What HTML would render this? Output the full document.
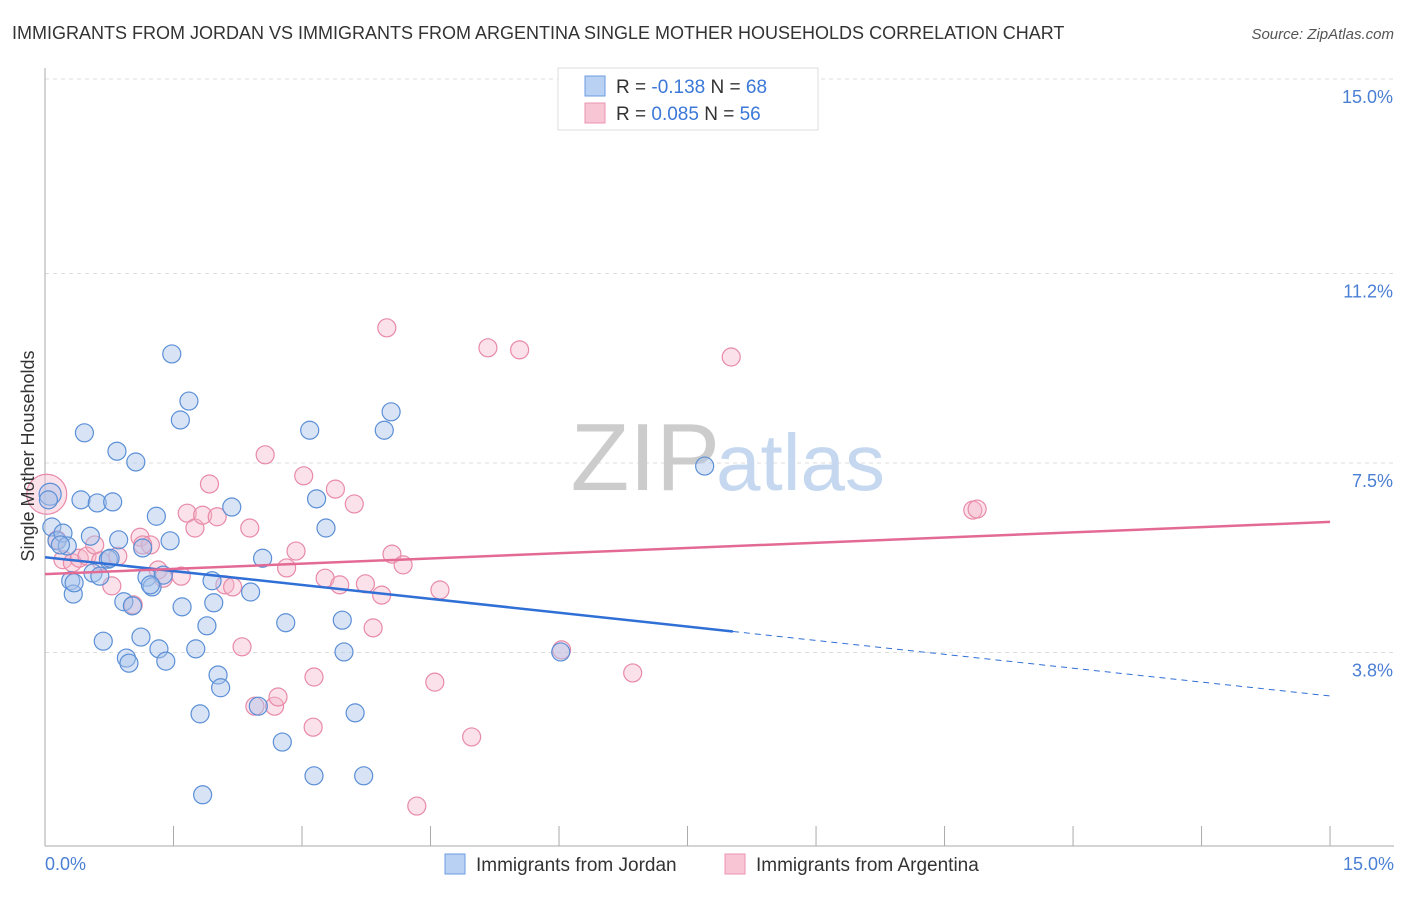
<!DOCTYPE html>
<html><head><meta charset="utf-8"><style>
body{margin:0;background:#fff;font-family:"Liberation Sans",sans-serif;}
svg text{font-family:"Liberation Sans",sans-serif;}
</style></head><body>
<svg id="chart" width="1406" height="892">
<text x="12" y="39" font-size="18" fill="#333">IMMIGRANTS FROM JORDAN VS IMMIGRANTS FROM ARGENTINA SINGLE MOTHER HOUSEHOLDS CORRELATION CHART</text>
<text x="1394" y="39" font-size="15" fill="#555" font-style="italic" text-anchor="end">Source: ZipAtlas.com</text>
<g id="grid"></g>
<text x="720" y="490" font-size="96" fill="#ccc" text-anchor="end" font-family="Liberation Serif">ZIP</text>
<text x="716" y="490" font-size="80" fill="#c5d8f0">atlas</text>
<g id="points"></g>
<g id="lines"></g>
<text transform="translate(34,456) rotate(-90)" font-size="18" fill="#333" text-anchor="middle">Single Mother Households</text>
<text x="45" y="870" font-size="18" fill="#4a7fd4">0.0%</text>
<text x="1394" y="870" font-size="18" fill="#4a7fd4" text-anchor="end">15.0%</text>
<g>
<rect x="558" y="68" width="260" height="62" fill="#fff" stroke="#ddd"/>
<rect x="585" y="76" width="20" height="20" fill="#b9d1f3" stroke="#6d9ce0"/>
<rect x="585" y="103" width="20" height="20" fill="#f8c5d5" stroke="#eb94b1"/>
<text x="616" y="93" font-size="19" fill="#333">R = <tspan fill="#3b78d8">-0.138</tspan>   N = <tspan fill="#3b78d8">68</tspan></text>
<text x="616" y="120" font-size="19" fill="#333">R =  <tspan fill="#3b78d8">0.085</tspan>   N = <tspan fill="#3b78d8">56</tspan></text>
</g>
<g>
<rect x="445" y="854" width="20" height="20" fill="#b9d1f3" stroke="#6d9ce0"/>
<text x="476" y="871" font-size="19" fill="#333">Immigrants from Jordan</text>
<rect x="725" y="854" width="20" height="20" fill="#f8c5d5" stroke="#eb94b1"/>
<text x="756" y="871" font-size="19" fill="#333">Immigrants from Argentina</text>
</g>
</svg>
<script>
const yTicks=[15.0,11.2,7.5,3.8];
const yTickLabels=["15.0%","11.2%","7.5%","3.8%"];
const jordanX=[0.06,0.08,0.14,0.21,0.26,0.30,0.33,0.42,0.46,0.53,0.56,0.61,0.64,0.68,0.74,0.79,0.84,0.86,0.92,0.95,0.98,1.02,1.06,1.12,1.14,1.19,1.25,1.30,1.33,1.38,1.41,1.46,1.48,1.58,1.60,1.68,1.76,1.81,1.84,1.89,1.95,1.97,2.02,2.05,2.18,2.40,2.54,2.49,2.77,2.81,3.09,3.14,3.17,3.28,3.47,3.49,3.62,3.72,3.96,4.04,6.02,7.70,0.04,0.18,0.76,1.23,0.34];
const jordanY=[6.89,6.25,5.98,6.13,5.88,5.20,4.94,6.78,8.09,6.07,5.35,6.72,5.29,4.02,5.62,6.74,7.73,6.00,4.79,3.69,3.59,4.71,7.52,4.10,5.84,5.27,5.08,6.46,3.87,5.31,3.63,5.98,9.63,8.34,4.69,8.71,3.87,2.60,1.02,4.32,5.20,4.77,3.36,3.11,6.64,4.98,5.64,2.75,2.05,4.38,8.14,1.39,6.80,6.23,4.43,3.81,2.62,1.39,8.14,8.50,3.81,7.44,6.78,5.90,5.64,5.12,5.16];
const argX=[0.02,0.14,0.21,0.32,0.40,0.49,0.58,0.65,0.78,0.85,1.03,1.11,1.23,1.32,1.38,1.59,1.66,1.75,1.84,1.92,2.01,2.10,2.19,2.30,2.39,2.45,2.57,2.68,2.72,2.82,2.93,3.02,3.13,3.14,3.27,3.39,3.44,3.61,3.74,3.83,3.93,3.99,4.05,4.18,4.55,4.61,4.98,5.17,5.54,6.03,6.86,8.01,10.83,10.88,4.34,1.14];
const argY=[6.89,6.00,5.61,5.55,5.64,5.68,5.90,5.59,5.10,5.68,4.73,6.05,5.90,5.41,5.25,5.29,6.52,6.23,6.48,7.09,6.45,5.12,5.08,3.91,6.23,2.75,7.66,2.75,2.93,5.45,5.78,7.25,2.34,3.32,5.25,6.99,5.12,6.70,5.14,4.28,4.92,10.14,5.72,5.51,3.22,5.02,2.15,9.75,9.71,3.85,3.40,9.57,6.58,6.60,0.80,5.90];
const jordanTrend=[5.66,2.95]; // y at x=0 and x=15
const argTrend=[5.33,6.35];
const jordanSolidEnd=8.03;

const NS="http://www.w3.org/2000/svg";
const X=v=>45+v*85.67;
const Y=v=>79+(15-v)*51.2;
function mk(tag,attrs,parent){const e=document.createElementNS(NS,tag);for(const k in attrs)e.setAttribute(k,attrs[k]);parent.appendChild(e);return e;}
const grid=document.getElementById('grid');
yTicks.forEach((t,i)=>{
 const l=mk('line',{x1:45,x2:1394,y1:Y(t),y2:Y(t),stroke:'#ddd','stroke-dasharray':'4,4'},grid);
 
 
 const tx=mk('text',{x:1393,y:Y(t)+24,'font-size':18,fill:'#4a7fd4','text-anchor':'end'},grid);
 tx.textContent=yTickLabels[i];
 
 
});
const ax=mk('line',{x1:45,x2:45,y1:68,y2:846,stroke:'#aaa'},grid);


const bx=mk('line',{x1:45,x2:1394,y1:846,y2:846,stroke:'#aaa'},grid);


for(let i=0;i<=10;i++){
 const t=mk('line',{x1:X(i*1.5),x2:X(i*1.5),y1:826,y2:846,stroke:'#aaa'},grid);
 
 
}
const pts=document.getElementById('points');
argX.forEach((x,i)=>{
 const c=mk('circle',{cx:X(x),cy:Y(argY[i]),r:i===0?20:9,fill:'#f5b3c8','fill-opacity':0.4,stroke:'#e88aa8','stroke-width':1.2},pts);
 
 
});
jordanX.forEach((x,i)=>{
 const c=mk('circle',{cx:X(x),cy:Y(jordanY[i]),r:i===0?11:9,fill:'#a8c4ec','fill-opacity':0.45,stroke:'#5b8fd6','stroke-width':1.2},pts);
 
 
});
const ln=document.getElementById('lines');
const jy=x=>jordanTrend[0]+(jordanTrend[1]-jordanTrend[0])*x/15;
let a=mk('line',{x1:X(0),y1:Y(jy(0)),x2:X(jordanSolidEnd),y2:Y(jy(jordanSolidEnd)),stroke:'#2f6fd6','stroke-width':2.5},ln);


a=mk('line',{x1:X(jordanSolidEnd),y1:Y(jy(jordanSolidEnd)),x2:X(15),y2:Y(jy(15)),stroke:'#2f6fd6','stroke-width':1,'stroke-dasharray':'6,5'},ln);


a=mk('line',{x1:X(0),y1:Y(argTrend[0]),x2:X(15),y2:Y(argTrend[1]),stroke:'#e36a95','stroke-width':2.5},ln);


</script>
</body></html>
